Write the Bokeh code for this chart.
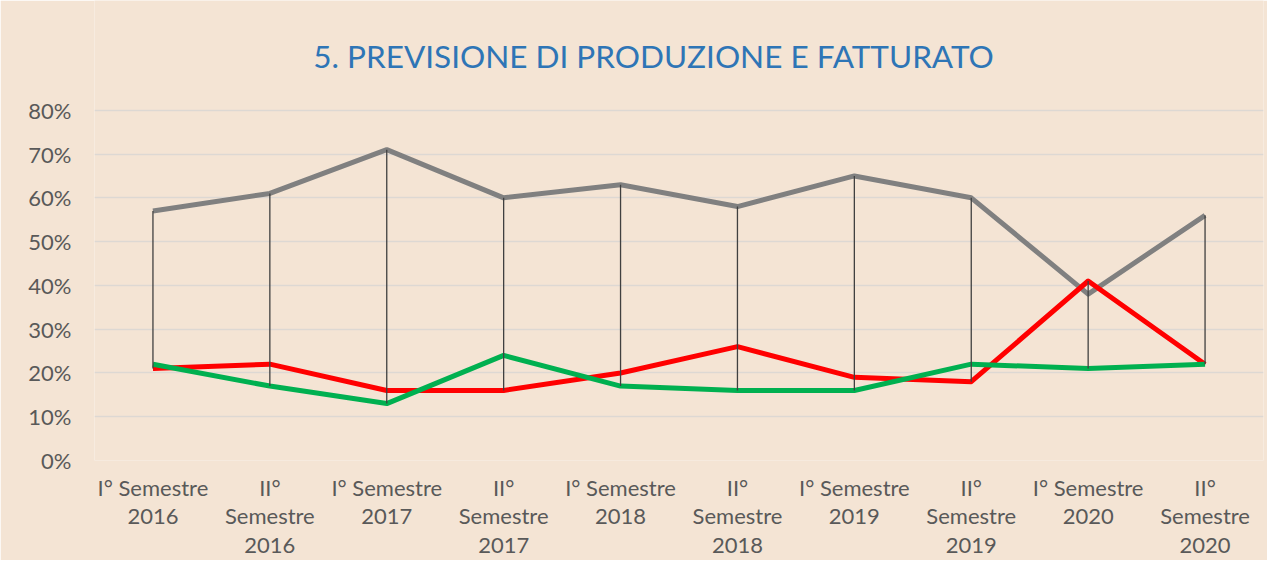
from bokeh.plotting import figure
from bokeh.models import FixedTicker, NumeralTickFormatter, ColumnDataSource
from bokeh.core.properties import value
from bokeh.embed import file_html
from bokeh.resources import INLINE

categories = ["I° Semestre\n2016", "II°\nSemestre\n2016",
              "I° Semestre\n2017", "II°\nSemestre\n2017",
              "I° Semestre\n2018", "II°\nSemestre\n2018",
              "I° Semestre\n2019", "II°\nSemestre\n2019",
              "I° Semestre\n2020", "II°\nSemestre\n2020"]
gray_vals = [0.57, 0.61, 0.71, 0.60, 0.63, 0.58, 0.65, 0.60, 0.38, 0.56]
red_vals = [0.21, 0.22, 0.16, 0.16, 0.20, 0.26, 0.19, 0.18, 0.41, 0.22]
green_vals = [0.22, 0.17, 0.13, 0.24, 0.17, 0.16, 0.16, 0.22, 0.21, 0.22]
y_ticks = [0.0, 0.1, 0.2, 0.3, 0.4, 0.5, 0.6, 0.7, 0.8]
title_text = "5. PREVISIONE DI PRODUZIONE E FATTURATO"

BG = "#F4E4D4"
FONT = "Lato"

# frame spans from the top of the canvas; y range extended so 80% sits at y=110px
p = figure(x_range=categories, y_range=(0, 1.0507), width=1267, height=560,
           output_backend="svg", toolbar_location=None,
           background_fill_color=BG, border_fill_color=BG,
           min_border_left=94, min_border_right=4,
           min_border_top=0, min_border_bottom=99)
p.outline_line_color = None
p.title.visible = False

# grid
p.xgrid.grid_line_color = None
p.ygrid.grid_line_color = "#DDD8D3"
p.ygrid.grid_line_width = 1.5
p.ygrid.ticker = FixedTicker(ticks=y_ticks)

# y axis
p.yaxis.ticker = FixedTicker(ticks=y_ticks)
p.yaxis.formatter = NumeralTickFormatter(format="0%")
p.yaxis.axis_line_color = None
p.yaxis.major_tick_line_color = None
p.yaxis.minor_tick_line_color = None
p.yaxis.major_tick_out = 0
p.yaxis.major_tick_in = 0
p.yaxis.major_label_standoff = 23
p.yaxis.major_label_text_font = FONT
p.yaxis.major_label_text_font_size = "22px"
p.yaxis.major_label_text_color = "#595959"

# x axis
p.xaxis.axis_line_color = None
p.xaxis.major_tick_line_color = None
p.xaxis.major_tick_out = 0
p.xaxis.major_tick_in = 0
p.xaxis.major_label_standoff = 13
p.xaxis.major_label_text_font = FONT
p.xaxis.major_label_text_font_size = "22px"
p.xaxis.major_label_text_color = "#595959"
p.xaxis.major_label_text_line_height = 1.06

src = ColumnDataSource(dict(x=categories, g=gray_vals, r=red_vals, gr=green_vals,
                            hi=[max(a, b, c) for a, b, c in zip(gray_vals, red_vals, green_vals)],
                            lo=[min(a, b, c) for a, b, c in zip(gray_vals, red_vals, green_vals)]))

p.line("x", "g", source=src, line_color="#808080", line_width=5, line_join="round")
p.line("x", "r", source=src, line_color="#FF0000", line_width=5, line_join="round")
p.line("x", "gr", source=src, line_color="#00B050", line_width=5, line_join="round")
p.segment(x0="x", y0="hi", x1="x", y1="lo", source=src, line_color="#404040", line_width=1.3)

# chart title
p.text(x=[categories[4]], y=[0.925], text=[title_text], x_offset=33,
       text_align="center", text_baseline="middle",
       text_font=value(FONT), text_font_size="31.5px", text_color="#2E75B6")

open("out.html", "w").write(file_html(p, INLINE))
